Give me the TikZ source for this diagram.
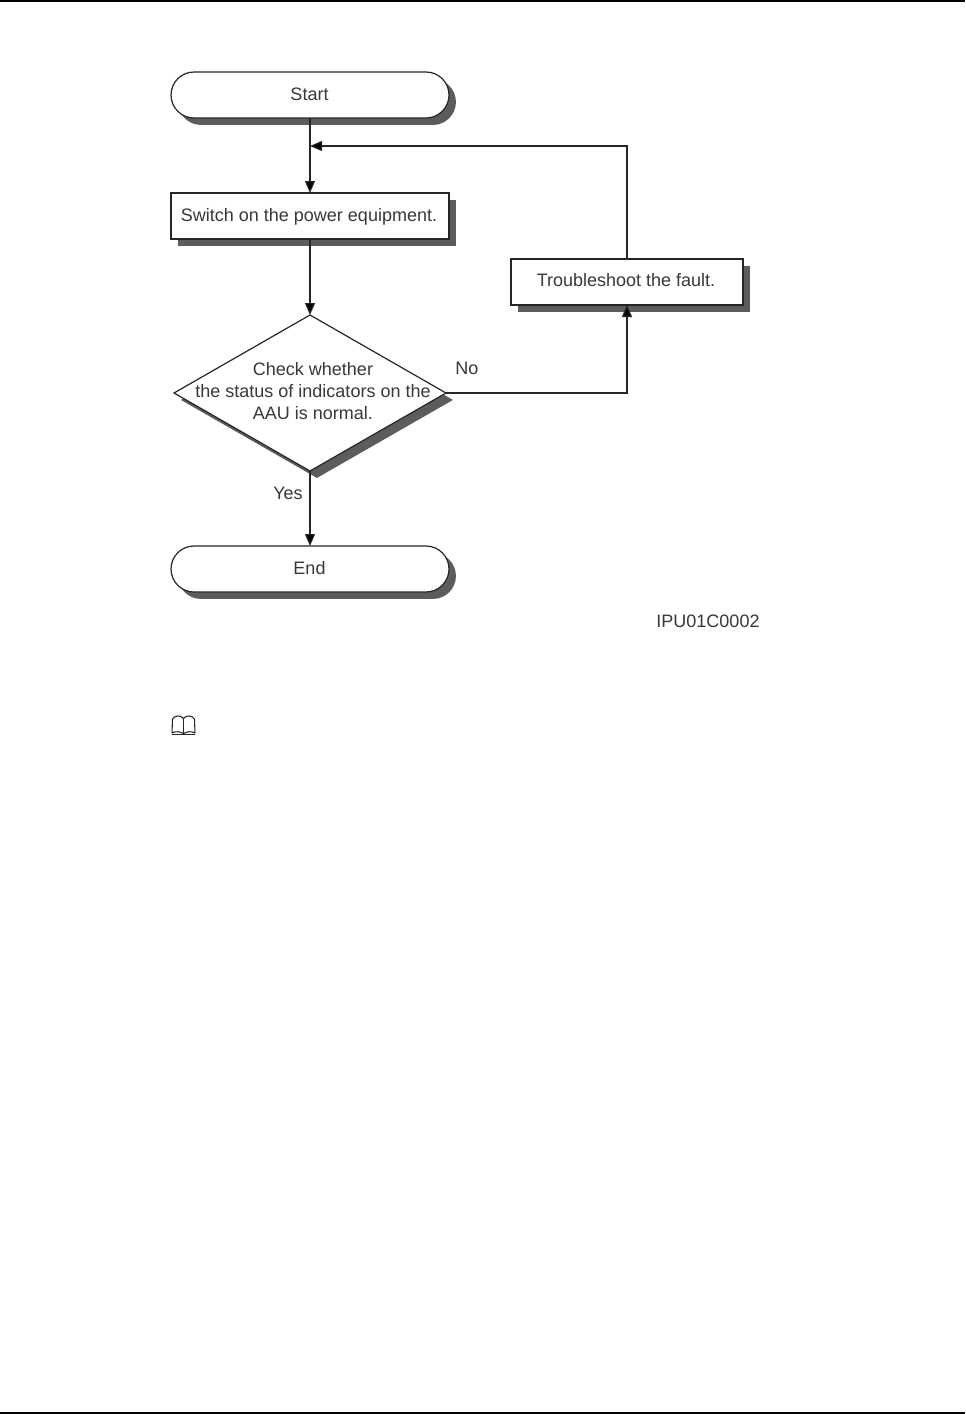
\documentclass[tikz,border=0pt]{standalone}
\usepackage{fontspec}
\setmainfont{Liberation Sans}
\usetikzlibrary{arrows.meta,shapes.geometric,shapes.misc,shadows}
\definecolor{inkc}{gray}{0.15}
\definecolor{textc}{gray}{0.22}
\definecolor{shadowc}{gray}{0.36}
\tikzset{
  x=0.75pt,y=-0.75pt,
  shade/.style={drop shadow={shadow xshift=5.2pt,shadow yshift=-5.2pt,fill=shadowc,opacity=1}},
  base/.style={draw=inkc,line width=0.9pt,fill=white,inner sep=0pt,outer sep=0pt,shade},
  terminal/.style={base,rounded rectangle,rounded rectangle arc length=180,minimum width=208.5pt,minimum height=34.5pt},
  process/.style={base,rectangle,minimum height=34.5pt},
  decision/.style={base,diamond,aspect=1.74,minimum width=204pt,minimum height=117pt},
  lab/.style={font=\fontsize{13.5pt}{16.5pt}\selectfont,text=textc,inner sep=0pt,align=center},
  flow/.style={draw=inkc,line width=0.9pt},
  tip/.style={-{Triangle[length=9pt,width=7.5pt,fill=black]}},
  rule/.style={draw=black,line width=1.2pt},
  icon/.style={draw=black!85,line width=0.8pt,line join=round}
}
\begin{document}
\begin{tikzpicture}
\useasboundingbox (0,0) rectangle (965,1414);
\fill[white] (0,0) rectangle (965,1414);
\coordinate (tl) at (0,0.8);
\coordinate (tr) at (965,0.8);
\coordinate (bl) at (0,1413.2);
\coordinate (br) at (965,1413.2);
\draw[rule] (tl) -- (tr);
\draw[rule] (bl) -- (br);
\node[terminal] (start) at (310,95) {};
\node[process,minimum width=208.5pt] (switch) at (310,216) {};
\node[process,minimum width=174pt] (fix) at (627,282) {};
\node[decision] (check) at (310,393) {};
\node[terminal] (end) at (310,569) {};
\node[lab] (starttext) at (309.5,94) {Start};
\node[lab] (switchtext) at (309,217) {Switch on the power equipment.};
\node[lab] (fixtext) at (626,280) {Troubleshoot the fault.};
\node[lab] (checktext) at (313,391) {Check whether\\the status of indicators on the\\AAU is normal.};
\node[lab] (endtext) at (309.5,568) {End};
\node[lab] (no) at (467,368) {No};
\node[lab] (yes) at (288,493) {Yes};
\node[lab] (code) at (708,621) {IPU01C0002};
\coordinate (join) at (start.south |- 0,146);
\draw[flow,tip] (start) -- (switch);
\draw[flow,tip] (switch) -- (check);
\draw[flow,tip] (check) -- (end);
\draw[flow,tip] (check.east) -| (fix.south);
\draw[flow,tip] (fix.north) |- (join);
% note icon
\draw[icon] (172,733) -- (172.5,719) .. controls (175,715) and (181,715) .. (183.5,718.5) .. controls (186,715) and (192,715) .. (194.5,719) -- (195,733) .. controls (191,731) and (187,731.5) .. (183.5,733.5) .. controls (180,731.5) and (176,731) .. (172,733) -- cycle;
\draw[icon] (183.5,718.5) -- (183.5,733.5);
\draw[icon] (172,734.6) -- (195,734.6);
\end{tikzpicture}
\end{document}
